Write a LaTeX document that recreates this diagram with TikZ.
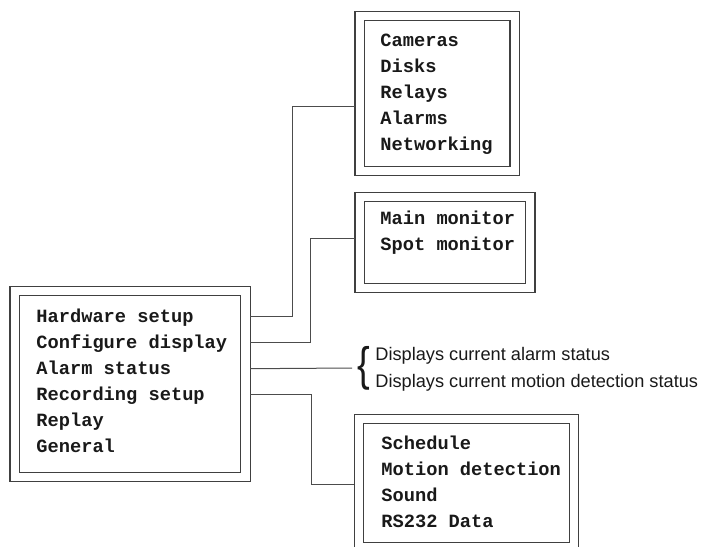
\documentclass[tikz,border=0pt]{standalone}
\usepackage{fontspec}
\setmainfont{Liberation Sans}
\setmonofont{Liberation Mono}
\usetikzlibrary{calc}
\tikzset{
  menubox/.style={draw=black!75, line width=0.6pt, double, double distance=4.05pt, outer sep=2.3pt, inner sep=0pt},
  item/.style={anchor=base west, inner sep=0pt, text height=6pt, text depth=0pt, text=black!90,
    font=\fontsize{9.35}{13}\selectfont\ttfamily\bfseries},
  note/.style={anchor=base west, inner sep=0pt, text=black!90, font=\fontsize{9.1}{14}\selectfont},
  link/.style={draw=black!70, line width=0.5pt}
}

\begin{document}
\begin{tikzpicture}[x=0.5pt,y=-0.5pt]
    \clip (0,0) rectangle (701,546);
    %%boxes
    \node[menubox, minimum width=115.4pt, minimum height=92.9pt] (main) at (130.1,384.1) {};
    \node[menubox, minimum width=77.5pt, minimum height=77.35pt] (cam) at (437.2,93.5) {};
    \node[menubox, minimum width=85.35pt, minimum height=45.4pt] (mon) at (445,242.6) {};
    \node[menubox, minimum width=107.5pt, minimum height=64.1pt] (recbox) at (466.5,482.9) {};
    %%main_menu
    \node[item] (hw) at (36,322.7) {Hardware setup};
    \node[item] (cfg) at (36,348.7) {Configure display};
    \node[item] (alarm) at (36,374.7) {Alarm status};
    \node[item] (rec) at (36,400.7) {Recording setup};
    \node[item] (replay) at (36,426.7) {Replay};
    \node[item] (gen) at (36,452.7) {General};
    %%hardware_menu
    \node[item] (cams) at (380,46.7) {Cameras};
    \node[item] (disks) at (380,72.7) {Disks};
    \node[item] (relays) at (380,98.7) {Relays};
    \node[item] (alarms) at (380,124.7) {Alarms};
    \node[item] (net) at (380,150.7) {Networking};
    %%display_menu
    \node[item] (mainmon) at (380,224) {Main monitor};
    \node[item] (spotmon) at (380,250) {Spot monitor};
    %%recording_menu
    \node[item] (sched) at (381,449.3) {Schedule};
    \node[item] (motion) at (381,475.3) {Motion detection};
    \node[item] (sound) at (381,501.3) {Sound};
    \node[item] (rsdata) at (381,527.3) {RS232 Data};
    %%alarm_notes
    \node[anchor=west, inner xsep=2.5pt, inner ysep=0pt, text=black!90] (brace) at (352,368)
        {\scalebox{1.9}[2.35]{\{}};
    \node[note] (almnote) at (375,360) {Displays current alarm status};
    \node[note] (motnote) at (375,387) {Displays current motion detection status};
    %%links
    \coordinate (hwbend) at (292,106);
    \coordinate (cfgbend) at (310,238.3);
    \coordinate (recbend) at (311,484.3);
    \draw[link] (main.east |- hw) -| (hwbend) -- (cam.west |- hwbend);
    \draw[link] (main.east |- cfg) -| (cfgbend) -- (mon.west |- cfgbend);
    \draw[link] (main.east |- alarm) -- (brace.west);
    \draw[link] (main.east |- rec) -| (recbend) -- (recbox.west |- recbend);
\end{tikzpicture}
\end{document}
